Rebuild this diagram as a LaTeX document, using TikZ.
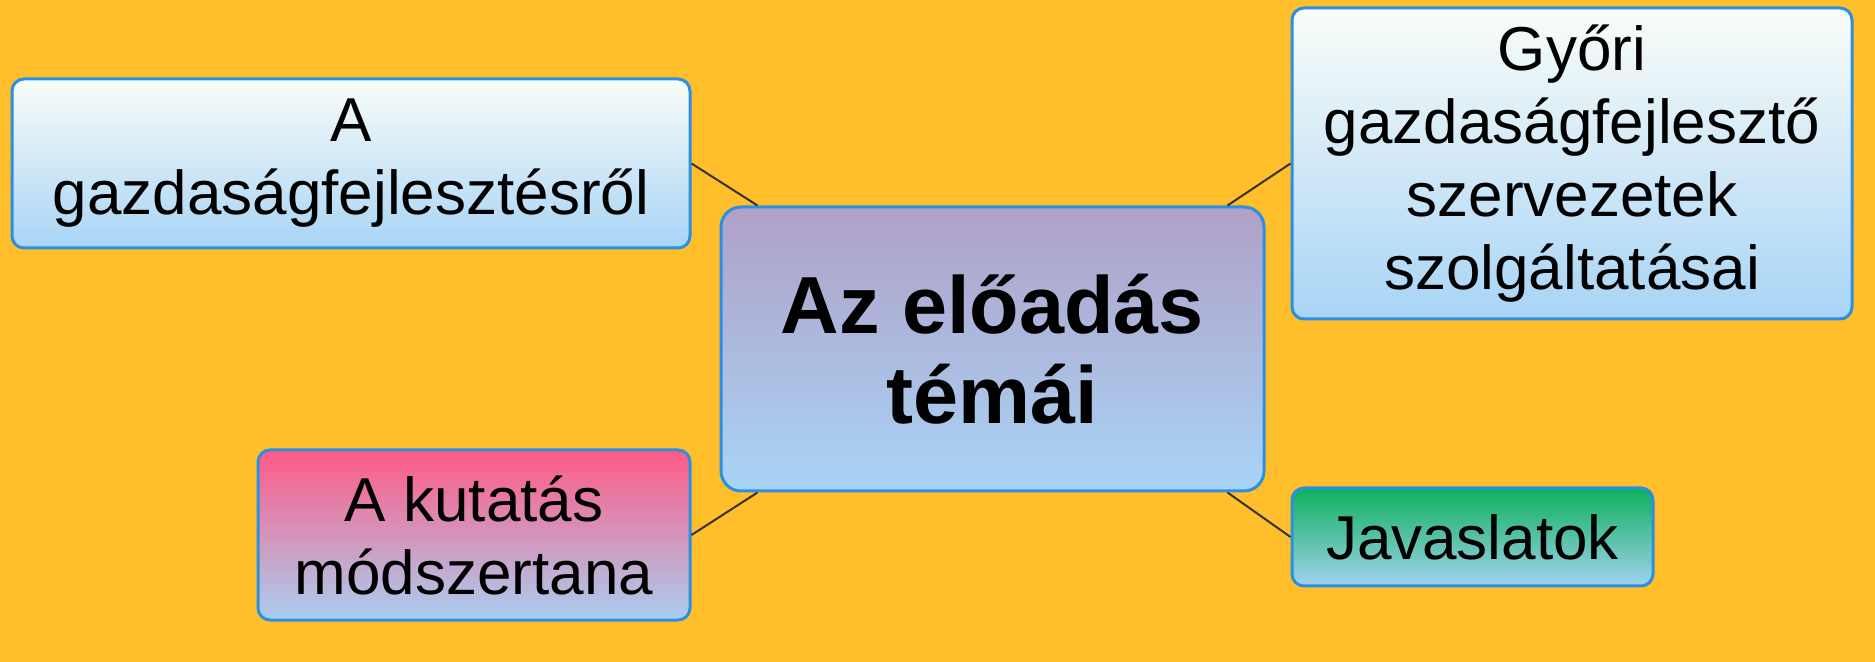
\documentclass[tikz,border=0pt]{standalone}
\usepackage{fontspec}
\setmainfont{Liberation Sans}
\definecolor{bgorange}{RGB}{255,190,42}
\definecolor{boxblue}{RGB}{43,143,227}
\definecolor{paleblue}{RGB}{168,212,246}
\definecolor{lilac}{RGB}{176,160,198}
\definecolor{offwhite}{RGB}{250,253,248}
\definecolor{rosepink}{RGB}{255,90,134}
\definecolor{mintgreen}{RGB}{14,176,94}

\begin{document}
\begin{tikzpicture}[x=0.5pt,y=0.5pt]
		\tikzstyle{every node}+=[inner sep=0pt]
		\tikzstyle{topic}=[draw=boxblue, line width=1.5pt, rounded corners=6pt, align=center, font=\fontsize{31pt}{36.5pt}\selectfont, bottom color=paleblue]
		\tikzstyle{link}=[line width=1pt, black!80]
		\fill [bgorange] (0,0) rectangle (1875,-662);
		\node [topic, top color=lilac, bottom color=paleblue, rounded corners=10pt, minimum width=271.5pt, minimum height=142pt, font=\bfseries\fontsize{40.5pt}{45pt}\selectfont] (temak) at (992.5,-349) {Az előadás\\témái};
		\node [topic, top color=offwhite, bottom color=paleblue, minimum width=339pt, minimum height=84.5pt] (fejl) at (351,-163.5) {A\\gazdaságfejlesztésről};
		\node [topic, top color=offwhite, bottom color=paleblue, minimum width=280pt, minimum height=155.5pt] (gyor) at (1572,-163.5) {Győri\\gazdaságfejlesztő\\szervezetek\\szolgáltatásai};
		\node [topic, top color=rosepink, bottom color=paleblue!90!lilac, minimum width=216pt, minimum height=85pt] (kut) at (474,-535) {A kutatás\\módszertana};
		\node [topic, top color=mintgreen, bottom color=paleblue!95!mintgreen, minimum width=180.5pt, minimum height=49pt] (jav) at (1472.5,-537) {Javaslatok};
		\draw [link] (fejl.east) -- ([xshift=19pt]temak.north west);
		\draw [link] (gyor.west) -- ([xshift=-19pt]temak.north east);
		\draw [link] (kut.east) -- ([xshift=19pt]temak.south west);
		\draw [link] (jav.west) -- ([xshift=-19pt]temak.south east);
\end{tikzpicture}
\end{document}
